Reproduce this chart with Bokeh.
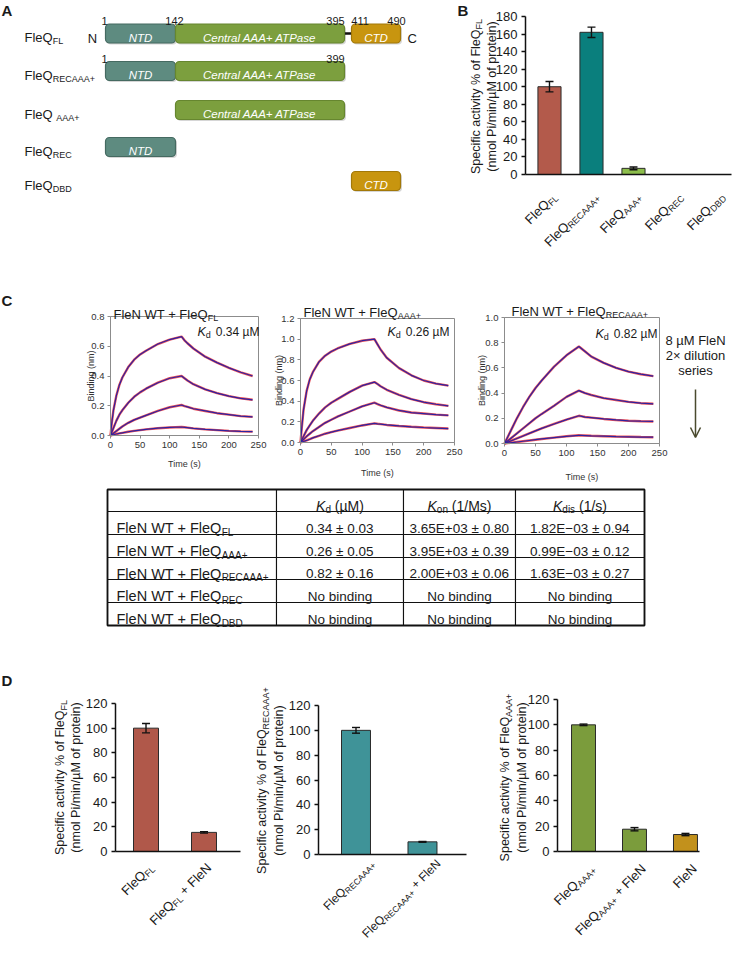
import math
from bokeh.plotting import figure
from bokeh.models import (Range1d, Label, FixedTicker, Whisker, TeeHead, LinearAxis,
                          ColumnDataSource, Arrow, OpenHead, NumeralTickFormatter)
from bokeh.embed import file_html
from bokeh.resources import INLINE

# ---------------------------------------------------------------- data
# Panel A: domain architecture
A_SUBS = ["FL", "RECAAA+", "AAA+", "REC", "DBD"]
A_DOM_ROW = [0, 0, 0, 1, 1, 2, 3, 4]
A_DOM_NAME = ["NTD", "Central AAA+ ATPase", "CTD", "NTD", "Central AAA+ ATPase",
              "Central AAA+ ATPase", "NTD", "CTD"]
A_DOM_START = [1, 142, 411, 1, 142, 142, 1, 411]
A_DOM_END = [142, 395, 490, 142, 399, 395, 142, 490]
A_NUM_ROW = [0, 0, 0, 0, 0, 1, 1]
A_NUM_RES = [1, 142, 395, 411, 490, 1, 399]

# Panel B: ATPase activity
B_SUBS = ["FL", "RECAAA+", "AAA+", "REC", "DBD"]
B_VALUES = [100, 162, 7, 0, 0]
B_ERRORS = [5.9, 5.9, 1.6, 0, 0]

# Panel C: BLI sensorgrams (time in s, binding in nm)
C_TIME = [0, 2, 5, 10, 15, 20, 30, 40, 50, 60, 80, 100, 120, 125, 130, 140, 160, 180, 200, 220, 240]
C_FL = [
    [0, 0.08, 0.17, 0.27, 0.34, 0.39, 0.46, 0.51, 0.545, 0.57, 0.615, 0.645, 0.665, 0.64, 0.62, 0.585, 0.53, 0.49, 0.455, 0.425, 0.40],
    [0, 0.02, 0.05, 0.10, 0.14, 0.17, 0.22, 0.26, 0.29, 0.315, 0.355, 0.385, 0.40, 0.385, 0.37, 0.345, 0.31, 0.285, 0.265, 0.25, 0.24],
    [0, 0.005, 0.015, 0.03, 0.045, 0.06, 0.085, 0.105, 0.12, 0.135, 0.165, 0.19, 0.205, 0.198, 0.192, 0.18, 0.165, 0.15, 0.14, 0.13, 0.125],
    [0, 0.002, 0.005, 0.01, 0.014, 0.018, 0.025, 0.031, 0.036, 0.041, 0.049, 0.054, 0.057, 0.055, 0.053, 0.048, 0.041, 0.036, 0.031, 0.028, 0.026],
]
C_AAA = [
    [0, 0.14, 0.32, 0.50, 0.61, 0.68, 0.78, 0.84, 0.88, 0.91, 0.955, 0.985, 1.0, 0.95, 0.90, 0.82, 0.72, 0.65, 0.60, 0.57, 0.55],
    [0, 0.025, 0.06, 0.12, 0.165, 0.21, 0.28, 0.34, 0.385, 0.42, 0.49, 0.55, 0.585, 0.565, 0.545, 0.51, 0.46, 0.42, 0.39, 0.37, 0.355],
    [0, 0.012, 0.03, 0.06, 0.085, 0.11, 0.15, 0.19, 0.22, 0.25, 0.30, 0.35, 0.385, 0.372, 0.36, 0.34, 0.31, 0.29, 0.28, 0.27, 0.262],
    [0, 0.004, 0.01, 0.02, 0.032, 0.045, 0.065, 0.085, 0.10, 0.115, 0.14, 0.165, 0.185, 0.181, 0.178, 0.17, 0.16, 0.152, 0.145, 0.14, 0.135],
]
C_RECAAA = [
    [0, 0.02, 0.05, 0.10, 0.15, 0.20, 0.29, 0.37, 0.44, 0.50, 0.61, 0.70, 0.77, 0.75, 0.73, 0.69, 0.64, 0.60, 0.57, 0.55, 0.535],
    [0, 0.008, 0.02, 0.04, 0.06, 0.08, 0.12, 0.16, 0.20, 0.235, 0.30, 0.37, 0.42, 0.41, 0.40, 0.385, 0.36, 0.345, 0.33, 0.32, 0.315],
    [0, 0.004, 0.01, 0.02, 0.03, 0.04, 0.06, 0.08, 0.10, 0.12, 0.155, 0.19, 0.22, 0.215, 0.21, 0.205, 0.195, 0.187, 0.18, 0.177, 0.175],
    [0, 0.001, 0.003, 0.006, 0.009, 0.012, 0.018, 0.024, 0.030, 0.036, 0.047, 0.057, 0.065, 0.064, 0.063, 0.061, 0.058, 0.055, 0.053, 0.051, 0.05],
]
C_SUBS = ["FL", "AAA+", "RECAAA+"]
C_KD = ["0.34", "0.26", "0.82"]
C_YMAX = [0.8, 1.2, 1.0]
C_XTICKS = [0, 50, 100, 150, 200, 250]

# Table
T_SUBS = ["FL", "AAA+", "RECAAA+", "REC", "DBD"]
T_HEAD = [("K", "d", " (µM)"), ("K", "on", " (1/Ms)"), ("K", "dis", " (1/s)")]
T_KD = ["0.34 ± 0.03", "0.26 ± 0.05", "0.82 ± 0.16", "No binding", "No binding"]
T_KON = ["3.65E+03 ± 0.80", "3.95E+03 ± 0.39", "2.00E+03 ± 0.06", "No binding", "No binding"]
T_KDIS = ["1.82E−03 ± 0.94", "0.99E−03 ± 0.12", "1.63E−03 ± 0.27", "No binding", "No binding"]

# Panel D
D1_CATS = [("FleQ", "FL", ""), ("FleQ", "FL", " + FleN")]
D1_VALUES = [100, 15.5]
D1_ERRORS = [3.8, 0.6]
D2_CATS = [("FleQ", "RECAAA+", ""), ("FleQ", "RECAAA+", " + FleN")]
D2_VALUES = [100, 10.2]
D2_ERRORS = [2.3, 0.3]
D3_CATS = [("FleQ", "AAA+", ""), ("FleQ", "AAA+", " + FleN"), ("FleN", "", "")]
D3_VALUES = [100, 17.6, 13.4]
D3_ERRORS = [0.6, 1.3, 0.9]

# ---------------------------------------------------------------- style
FONT = "Liberation Sans"
INK = "#1a1a1a"
DOM_STYLE = {"NTD": ("#5e8b80", "#456a61"),
             "Central AAA+ ATPase": ("#7c9f3e", "#66862f"),
             "CTD": ("#c8950f", "#a27808")}
B_COLORS = ["#b35a4b", "#0a7f7d", "#8cbd4b", "#999999", "#999999"]
D1_COLORS = ["#b0584a", "#b0584a"]
D2_COLORS = ["#3f9398", "#3f9398"]
D3_COLORS = ["#7b9c3c", "#7b9c3c", "#c2911c"]

_W = {}
for ch, w in zip(" !%()+,-./:", [278, 278, 889, 333, 333, 584, 278, 333, 278, 278, 278]):
    _W[ch] = w
for ch in "0123456789":
    _W[ch] = 556
for ch, w in zip("ABCDEFGHIJKLMNOPQRSTUVWXYZ",
                 [667, 667, 722, 722, 667, 611, 778, 722, 278, 500, 667, 556, 833,
                  722, 778, 667, 778, 722, 667, 611, 722, 667, 944, 667, 667, 611]):
    _W[ch] = w
for ch, w in zip("abcdefghijklmnopqrstuvwxyz",
                 [556, 556, 500, 556, 556, 278, 556, 556, 222, 222, 500, 222, 833,
                  556, 556, 556, 556, 333, 500, 278, 556, 500, 722, 500, 500, 500]):
    _W[ch] = w
_W.update({"µ": 576, "±": 584, "×": 584, "−": 584})


def tw(s, size):
    return sum(_W.get(c, 556) for c in s) * size / 1000.0


# ---------------------------------------------------------------- canvas
# one figure whose base ranges are page pixels (x right, y down)
X0, Y0 = 8, 8
W_FIG, H_FIG = 732, 941
p = figure(width=W_FIG, height=H_FIG,
           x_range=Range1d(X0, X0 + W_FIG), y_range=Range1d(Y0 + H_FIG, Y0),
           x_axis_type=None, y_axis_type=None, output_backend="svg",
           toolbar_location=None, title=None, min_border=0,
           min_border_left=0, min_border_right=0, min_border_top=0, min_border_bottom=0,
           background_fill_color="white", border_fill_color="white",
           outline_line_color=None)

CH = {}


def chart(name, box, xr, yr):
    """Register a sub-chart: data ranges xr/yr mapped onto pixel box (l, t, r, b)."""
    l, t, r, b = box
    xa, xb = xr
    ya, yb = yr
    kx = (xb - xa) / (r - l)
    ky = (yb - ya) / (b - t)
    p.extra_x_ranges[name] = Range1d(xa - (l - X0) * kx, xa + (X0 + W_FIG - l) * kx)
    p.extra_y_ranges[name] = Range1d(ya - (Y0 + H_FIG - b) * ky, ya + (b - Y0) * ky)
    CH[name] = (l, t, r, b, xa, xb, ya, yb)


def cpx(name, v):
    l, t, r, b, xa, xb, ya, yb = CH[name]
    return l + (v - xa) * (r - l) / (xb - xa)


def rich(parts, x, y, align="left", angle=0.0, color=INK):
    widths = [(s if k == "gap" else tw(t, s)) for t, s, k in parts]
    total = sum(widths)
    pos = {"left": 0.0, "center": -total / 2.0, "right": -total}[align]
    ca, sa = math.cos(angle), math.sin(angle)
    for (t, s, k), w in zip(parts, widths):
        if k != "gap":
            txt = t.strip(" ")
            pp = pos + tw(" " * (len(t) - len(t.lstrip(" "))), s)
            drop = 0.4 * s if k == "sub" else 0.0
            sx = x + pp * ca + drop * sa
            sy = y - pp * sa + drop * ca
            style = {"i": "italic", "b": "bold"}.get(k, "normal")
            p.add_layout(Label(x=sx, y=sy, text=txt, angle=angle,
                               text_font=FONT, text_font_size=f"{s}px",
                               text_font_style=style, text_align="left",
                               text_baseline="alphabetic", text_color=color))
        pos += w


def axes(name, yticks, xticks, xbounds, color, width, fsize, tick_out, standoff,
         fmt=None, label_color=INK):
    l, t, r, b, xa, xb, ya, yb = CH[name]
    common = dict(x_range_name=name, y_range_name=name,
                  axis_line_color=color, axis_line_width=width,
                  major_tick_line_color=color, major_tick_line_width=width,
                  major_tick_in=0, major_tick_out=tick_out,
                  minor_tick_line_color=None, major_label_text_font=FONT,
                  major_label_text_font_size=fsize, major_label_text_color=label_color,
                  major_label_standoff=standoff)
    yax = LinearAxis(fixed_location=xa, bounds=(ya, yb),
                     ticker=FixedTicker(ticks=yticks), **common)
    if fmt is not None:
        yax.formatter = fmt
    p.add_layout(yax, "left")
    xax = LinearAxis(fixed_location=ya, bounds=xbounds,
                     ticker=FixedTicker(ticks=xticks), **common)
    p.add_layout(xax, "below")


def bars(name, values, errors, colors, width):
    xs = list(range(len(values)))
    src = ColumnDataSource(dict(x=xs, top=values, color=colors))
    p.vbar(x="x", top="top", width=width, fill_color="color", line_color="#2b2b2b",
           line_width=1, source=src, x_range_name=name, y_range_name=name)
    keep = [i for i, e in enumerate(errors) if e > 0]
    esrc = ColumnDataSource(dict(x=[xs[i] for i in keep],
                                 lo=[values[i] - errors[i] for i in keep],
                                 hi=[values[i] + errors[i] for i in keep]))
    head = dict(size=8, line_color="#111111", line_width=1.4)
    p.add_layout(Whisker(source=esrc, base="x", lower="lo", upper="hi",
                         x_range_name=name, y_range_name=name,
                         line_color="#111111", line_width=1.4, level="overlay",
                         upper_head=TeeHead(**head), lower_head=TeeHead(**head)))


def cat_labels(name, cats, dxo, dyo, size=13, sub=9):
    axis_y = CH[name][3]
    for i, (base, sub_t, suffix) in enumerate(cats):
        parts = [(base, size, "n")]
        if sub_t:
            parts.append((sub_t, sub, "sub"))
        if suffix:
            parts.append((suffix, size, "n"))
        rich(parts, cpx(name, i) + dxo, axis_y + dyo, align="right", angle=math.pi / 4)


def act_ylabel(sub_t, x1, x2, yc):
    rich([("Specific activity % of FleQ", 12.5, "n"), (sub_t, 9, "sub")],
         x1, yc, "center", math.pi / 2)
    rich([("(nmol Pi/min/µM of protein)", 12.5, "n")], x2, yc, "center", math.pi / 2)


# ---------------------------------------------------------------- panel A
RES_X = {1: 113, 142: 183, 395: 352, 399: 352, 411: 359, 490: 408}
ROW_CY = [41, 78.5, 117.5, 154.5, 188.5]
BOX_H = 19
NUM_X = [112, 182, 343, 368, 404, 112, 343]
NUM_Y = [28.5, 66]

lefts = [RES_X[s] for s in A_DOM_START]
rights = [RES_X[e] for e in A_DOM_END]
tops = [ROW_CY[r] - BOX_H / 2 for r in A_DOM_ROW]
bots = [ROW_CY[r] + BOX_H / 2 for r in A_DOM_ROW]
for i in range(len(A_DOM_ROW) - 1):
    if A_DOM_ROW[i] == A_DOM_ROW[i + 1] and A_DOM_END[i] < A_DOM_START[i + 1]:
        yy = ROW_CY[A_DOM_ROW[i]]
        p.segment(x0=[rights[i]], y0=[yy], x1=[lefts[i + 1]], y1=[yy],
                  line_color="#111111", line_width=2.5)
p.quad(left=[v + 1.5 for v in lefts], right=[v + 1.5 for v in rights],
       top=[v + 1.5 for v in tops], bottom=[v + 1.5 for v in bots],
       fill_color="#000000", fill_alpha=0.16, line_color=None, border_radius=4)
p.quad(left=lefts, right=rights, top=tops, bottom=bots,
       fill_color=[DOM_STYLE[n][0] for n in A_DOM_NAME],
       line_color=[DOM_STYLE[n][1] for n in A_DOM_NAME],
       line_width=1.2, border_radius=4)
for i, nm in enumerate(A_DOM_NAME):
    rich([(nm, 11.5, "i")], (lefts[i] + rights[i]) / 2.0, ROW_CY[A_DOM_ROW[i]] + 4,
         "center", color="white")
for r, sub in enumerate(A_SUBS):
    base = "FleQ " if sub == "AAA+" else "FleQ"
    rich([(base, 13, "n"), (sub, 9, "sub")], 32, ROW_CY[r] + 4)
for i, res in enumerate(A_NUM_RES):
    rich([(str(res), 11, "n")], NUM_X[i], NUM_Y[A_NUM_ROW[i]], "center")
rich([("N", 13, "n")], 100, ROW_CY[0] + 4.5, "center")
rich([("C", 13, "n")], 415, ROW_CY[0] + 4.5)
rich([("A", 15, "b")], 9, 18)

# ---------------------------------------------------------------- panel B
chart("b", (533, 24, 748, 182), (-0.571, 4.548), (0, 180))
axes("b", list(range(0, 181, 20)), [], (-0.571, 4.33), "#111111", 1.5, "13px", 4, 4)
bars("b", B_VALUES, B_ERRORS, B_COLORS, 0.55)
cat_labels("b", [("FleQ", s, "") for s in B_SUBS], 5, 20)
act_ylabel("FL", 483, 499, 104)
rich([("B", 15, "b")], 465, 18)

# ---------------------------------------------------------------- panel C
C_BOX = [(118, 324, 266, 443), (308, 326, 462, 450), (512, 325, 667, 451)]
C_TITLE_XY = [(121, 322), (311, 320), (519, 319)]
C_KD_XY = [(205, 339), (395, 339), (603, 341)]
C_YLAB_X = [98, 286, 489]
C_XLAB_Y = [471, 480, 484]
for k, curves in enumerate([C_FL, C_AAA, C_RECAAA]):
    nm = f"c{k}"
    ymax = C_YMAX[k]
    chart(nm, C_BOX[k], (0, 250), (0, ymax))
    nt = int(round(ymax / 0.2))
    axes(nm, [round(0.2 * j, 1) for j in range(nt + 1)], C_XTICKS, (0, 250),
         "#8c8c8c", 1, "9.5px", 3, 3, fmt=NumeralTickFormatter(format="0.0"),
         label_color="#333333")
    p.quad(left=[0], right=[250], bottom=[0], top=[ymax], fill_color=None,
           line_color="#8c8c8c", line_width=1, x_range_name=nm, y_range_name=nm)
    for c in curves:
        p.line(C_TIME, c, line_color="#e8343c", line_width=2.4, line_alpha=0.85,
               x_range_name=nm, y_range_name=nm)
    for c in curves:
        p.line(C_TIME, c, line_color="#2e22a0", line_width=1.2,
               x_range_name=nm, y_range_name=nm)
    l, t, r, b = C_BOX[k]
    tx, ty = C_TITLE_XY[k]
    rich([("FleN WT + FleQ", 13, "n"), (C_SUBS[k], 9, "sub")], tx, ty)
    kx, ky = C_KD_XY[k]
    rich([("K", 12.5, "i"), ("d", 9, "sub"), ("", 5, "gap"), (C_KD[k] + " µM", 12, "n")], kx, ky)
    rich([("Binding (nm)", 9, "n")], C_YLAB_X[k], (t + b) / 2.0, "center", math.pi / 2, "#333333")
    rich([("Time (s)", 9, "n")], (l + r) / 2.0, C_XLAB_Y[k], "center", 0.0, "#333333")

rich([("C", 15, "b")], 9, 308)
for line, yy in zip(["8 µM FleN", "2× dilution", "series"], [347.5, 362.5, 377.5]):
    rich([(line, 13, "n")], 703, yy, "center")
p.add_layout(Arrow(end=OpenHead(size=10, line_color="#4a4a2e", line_width=1.5),
                   x_start=703, y_start=397, x_end=703, y_end=445,
                   line_color="#4a4a2e", line_width=1.5))

# ---------------------------------------------------------------- table
COL_EDGES = [115, 284, 411, 523, 652]
ROW_EDGES = [497, 519, 542, 565, 587, 610, 633]
ql, qr, qt, qb = [], [], [], []
for r in range(len(ROW_EDGES) - 1):
    for c in range(len(COL_EDGES) - 1):
        ql.append(COL_EDGES[c]); qr.append(COL_EDGES[c + 1])
        qt.append(ROW_EDGES[r]); qb.append(ROW_EDGES[r + 1])
p.quad(left=ql, right=qr, top=qt, bottom=qb, fill_color="white",
       line_color="#111111", line_width=1.1)
p.quad(left=[COL_EDGES[0]], right=[COL_EDGES[-1]], top=[ROW_EDGES[0]],
       bottom=[ROW_EDGES[-1]], fill_color=None, line_color="#111111", line_width=1.8)
TS_NAME, TS_NUM, TS_HEAD, TSS = 14.5, 13.5, 14, 10
col_cx = [(COL_EDGES[c] + COL_EDGES[c + 1]) / 2.0 for c in range(len(COL_EDGES) - 1)]
row_base = [(ROW_EDGES[r] + ROW_EDGES[r + 1]) / 2.0 + 5 for r in range(len(ROW_EDGES) - 1)]
for c, (kk, sub, unit) in enumerate(T_HEAD):
    rich([(kk, TS_HEAD, "i"), (sub, TSS, "sub"), (unit, TS_HEAD, "n")],
         col_cx[c + 1], row_base[0], "center")
for r, sub in enumerate(T_SUBS):
    rich([("FleN WT + FleQ", TS_NAME, "n"), (sub, TSS, "sub")], 124, row_base[r + 1])
    for c, vals in enumerate([T_KD, T_KON, T_KDIS]):
        rich([(vals[r], TS_NUM, "n")], col_cx[c + 1], row_base[r + 1], "center")

# ---------------------------------------------------------------- panel D
D_SPECS = [
    ("d1", (123, 711, 248, 859), (-0.526, 1.629), D1_CATS, D1_VALUES, D1_ERRORS, D1_COLORS, 0.431, "FL", (67.5, 83.5, 785), (5, 14, 13, 9)),
    ("d2", (326, 713, 474, 862), (-0.564, 1.662), D2_CATS, D2_VALUES, D2_ERRORS, D2_COLORS, 0.436, "RECAAA+", (269.5, 286.5, 788), (16, 7, 12, 8.5)),
    ("d3", (565, 707, 707, 859), (-0.51, 2.275), D3_CATS, D3_VALUES, D3_ERRORS, D3_COLORS, 0.47, "AAA+", (512.5, 529.5, 785), (9, 15, 13, 9)),
]
for nm, box, xr, cats, vals, errs, cols, bw, sub, ylx, off in D_SPECS:
    chart(nm, box, xr, (0, 120))
    axes(nm, list(range(0, 121, 20)), [], xr, "#111111", 1.5, "13px", 4, 4)
    bars(nm, vals, errs, cols, bw)
    cat_labels(nm, cats, off[0], off[1], off[2], off[3])
    act_ylabel(sub, *ylx)
rich([("D", 15, "b")], 9, 688)

open("out.html", "w").write(file_html(p, INLINE))
